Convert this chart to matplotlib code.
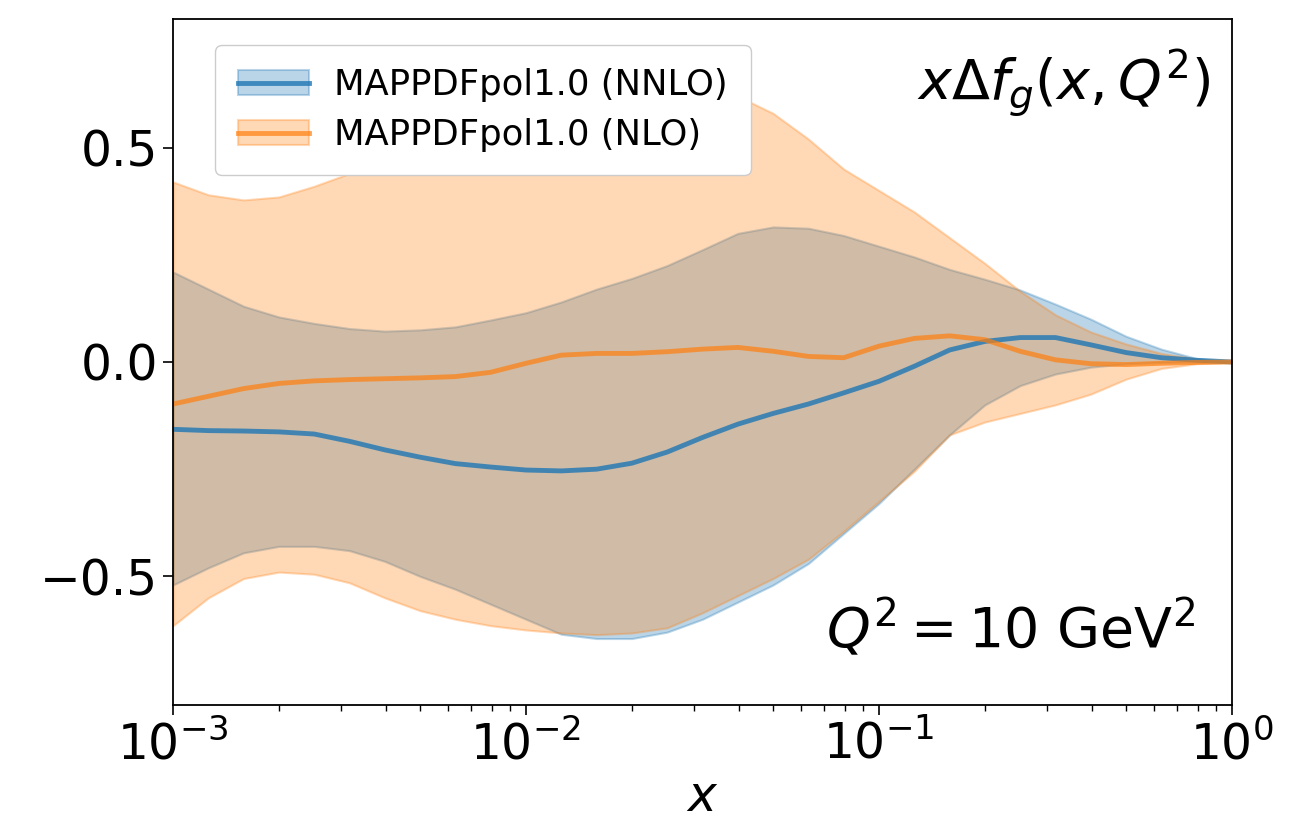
import matplotlib
matplotlib.use("Agg")
import matplotlib.pyplot as plt
import numpy as np

# log10(x) grid the curves are tabulated on
logx = np.arange(-3.0, 0.01, 0.1)

# NNLO central value and band
nnlo_mid = [-0.157, -0.160, -0.161, -0.163, -0.168, -0.185, -0.205, -0.222, -0.237, -0.245,
            -0.252, -0.254, -0.250, -0.236, -0.210, -0.176, -0.145, -0.120, -0.098, -0.072,
            -0.045, -0.010, 0.028, 0.048, 0.057, 0.057, 0.040, 0.022, 0.010, 0.004, 0.0]
nnlo_hi = [0.210, 0.170, 0.130, 0.105, 0.090, 0.078, 0.072, 0.075, 0.082, 0.098,
           0.115, 0.140, 0.170, 0.195, 0.225, 0.262, 0.300, 0.315, 0.312, 0.295,
           0.270, 0.245, 0.216, 0.193, 0.168, 0.135, 0.100, 0.060, 0.030, 0.008, 0.0]
nnlo_lo = [-0.520, -0.480, -0.445, -0.430, -0.430, -0.440, -0.465, -0.500, -0.530, -0.565,
           -0.600, -0.635, -0.645, -0.645, -0.630, -0.600, -0.560, -0.520, -0.470, -0.400,
           -0.330, -0.250, -0.170, -0.100, -0.055, -0.028, -0.012, -0.004, -0.001, 0.0, 0.0]

# NLO central value and band
nlo_mid = [-0.098, -0.080, -0.062, -0.050, -0.044, -0.041, -0.039, -0.037, -0.034, -0.024,
           -0.003, 0.016, 0.020, 0.020, 0.024, 0.030, 0.034, 0.025, 0.013, 0.010,
           0.037, 0.055, 0.061, 0.052, 0.025, 0.005, -0.004, -0.006, -0.003, -0.001, 0.0]
nlo_hi = [0.420, 0.390, 0.378, 0.385, 0.410, 0.440, 0.470, 0.500, 0.530, 0.550,
          0.570, 0.590, 0.610, 0.620, 0.630, 0.630, 0.620, 0.580, 0.520, 0.450,
          0.400, 0.350, 0.290, 0.230, 0.165, 0.110, 0.070, 0.042, 0.020, 0.007, 0.0]
nlo_lo = [-0.615, -0.550, -0.505, -0.490, -0.495, -0.515, -0.550, -0.580, -0.600, -0.615,
          -0.625, -0.632, -0.636, -0.632, -0.620, -0.585, -0.545, -0.505, -0.460, -0.395,
          -0.325, -0.255, -0.170, -0.140, -0.120, -0.100, -0.075, -0.040, -0.015, -0.004, 0.0]

x = 10.0 ** logx

fig = plt.figure(figsize=(13.07, 8.19), dpi=100)
ax = fig.add_axes([0.1324, 0.1392, 0.8102, 0.8376])

b_band = ax.fill_between(x, nnlo_lo, nnlo_hi, color='tab:blue', alpha=0.3, lw=1.5)
b_line, = ax.plot(x, nnlo_mid, color='tab:blue', alpha=0.8, lw=3.5,
                  solid_joinstyle='round')
o_band = ax.fill_between(x, nlo_lo, nlo_hi, color='tab:orange', alpha=0.3, lw=1.5)
o_line, = ax.plot(x, nlo_mid, color='tab:orange', alpha=0.7, lw=3.5,
                  solid_joinstyle='round')

ax.set_xscale('log')
ax.set_xlim(1e-3, 1.0)
ax.set_ylim(-0.8, 0.8)
ax.set_yticks([-0.5, 0.0, 0.5])

ax.tick_params(which='major', labelsize=35, length=7.5, width=1.2)
ax.tick_params(which='minor', length=4, width=1.0)
for s in ax.spines.values():
    s.set_linewidth(1.3)

ax.set_xlabel('$x$', fontsize=35, labelpad=3)

ax.text(0.98, 0.905, r'$x\Delta f_g(x,Q^2)$', transform=ax.transAxes,
        ha='right', va='center', fontsize=40)
ax.text(0.965, 0.112, r'$Q^2 = 10\ \mathrm{GeV}^2$', transform=ax.transAxes,
        ha='right', va='center', fontsize=40)

ax.legend([(b_band, b_line), (o_band, o_line)],
          ['MAPPDFpol1.0 (NNLO)', 'MAPPDFpol1.0 (NLO)'],
          loc='upper left', bbox_to_anchor=(0.04, 0.962), borderaxespad=0,
          fontsize=25.5, handlelength=2.0, handletextpad=0.7, framealpha=1.0,
          labelspacing=0.45, borderpad=0.65)

fig.savefig('out.png', dpi=100)
